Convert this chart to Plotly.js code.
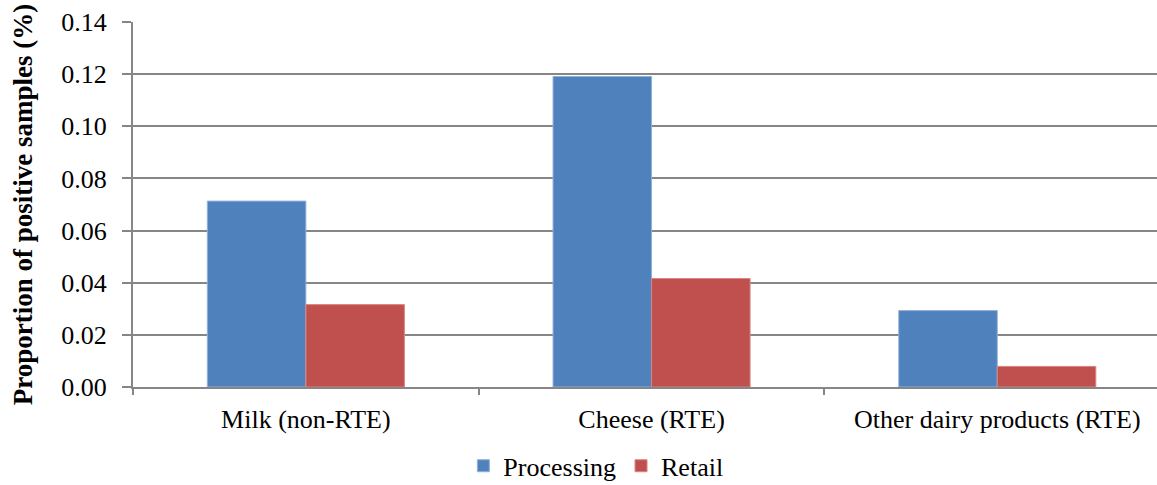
<!DOCTYPE html>
<html>
<head>
<meta charset="utf-8">
<script src="https://cdn.plot.ly/plotly-3.0.1.min.js"></script>
<style>
  html, body { margin: 0; padding: 0; background: #ffffff; }
  #chart { width: 1157px; height: 485px; }
</style>
</head>
<body>
<div id="chart"></div>
<script>
// Proportion of positive samples by product category and sampling stage
const categories = ["Milk (non-RTE)", "Cheese (RTE)", "Other dairy products (RTE)"];
const processing = [0.0713, 0.1191, 0.0293];
const retail = [0.0316, 0.0416, 0.0079];
const yTicks = [0, 0.02, 0.04, 0.06, 0.08, 0.10, 0.12, 0.14];
const yTickLabels = ["0.00", "0.02", "0.04", "0.06", "0.08", "0.10", "0.12", "0.14"];

const serif = "Liberation Serif, Times New Roman, serif";
const gridColor = "#868686";

const traces = [
  {
    type: "bar",
    name: "Processing",
    x: categories,
    y: processing,
    marker: { color: "#4F81BD", line: { color: "#8FB0DA", width: 1 } },
    hoverinfo: "x+y"
  },
  {
    type: "bar",
    name: "Retail",
    x: categories,
    y: retail,
    marker: { color: "#C0504D", line: { color: "#D98582", width: 1 } },
    hoverinfo: "x+y"
  }
];

const layout = {
  width: 1157,
  height: 485,
  margin: { l: 133, r: 0, t: 22, b: 98, autoexpand: false },
  paper_bgcolor: "#ffffff",
  plot_bgcolor: "#ffffff",
  barmode: "group",
  bargap: 0.43,
  bargroupgap: 0,
  font: { family: serif, size: 26, color: "#000000" },
  showlegend: true,
  legend: {
    orientation: "h",
    x: 0.452,
    xanchor: "center",
    y: -0.216,
    yanchor: "middle",
    font: { family: serif, size: 26, color: "#000000" },
    traceorder: "normal"
  },
  xaxis: {
    type: "category",
    range: [-0.5, 2.462],
    tickson: "boundaries",
    ticks: "outside",
    ticklen: 6,
    tickwidth: 2,
    tickcolor: gridColor,
    ticklabelstandoff: 8,
    showgrid: false,
    showline: true,
    linecolor: gridColor,
    linewidth: 2,
    zeroline: false,
    tickfont: { family: serif, size: 26, color: "#000000" },
    fixedrange: true
  },
  yaxis: {
    range: [0, 0.14],
    tickvals: yTicks,
    ticktext: yTickLabels,
    ticks: "outside",
    ticklen: 9,
    tickwidth: 2,
    tickcolor: gridColor,
    ticklabelstandoff: 10,
    showgrid: true,
    gridcolor: gridColor,
    gridwidth: 2,
    showline: true,
    linecolor: gridColor,
    linewidth: 2,
    zeroline: false,
    tickfont: { family: serif, size: 26, color: "#000000" },
    title: {
      text: "<b>Proportion of positive samples (%)</b>",
      font: { family: serif, size: 27, color: "#000000" },
      standoff: 21
    },
    fixedrange: true
  }
};

Plotly.newPlot("chart", traces, layout, { displayModeBar: false, staticPlot: true });
</script>
</body>
</html>
